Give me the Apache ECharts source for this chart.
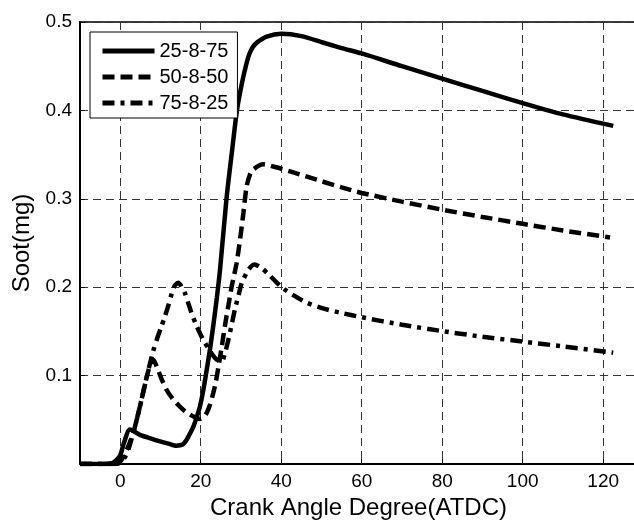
<!DOCTYPE html>
<html><head><meta charset="utf-8">
<script src="https://cdn.jsdelivr.net/npm/echarts@6/dist/echarts.min.js"></script>
<style>html,body{margin:0;padding:0;background:#fff}#c{width:634px;height:521px}</style>
</head><body><div id="c"></div>
<script>
const seriesNames = ['25-8-75', '50-8-50', '75-8-25'];
const xTicks = [0, 20, 40, 60, 80, 100, 120];
const yTicks = [0.1, 0.2, 0.3, 0.4, 0.5];
const xTitle = 'Crank Angle Degree(ATDC)';
const yTitle = 'Soot(mg)';

// 25-8-75 (solid)
const x1 = [-10,-4,-2,-1,0,1,2.4,4.9,7.5,9.9,12,14,15.5,16.5,17.5,18.2,19,19.8,20.7,21.5,22.3,23.1,24,24.8,26.4,27.8,29.0,30.2,31.2,32.1,33,34,36.4,40,45,50.5,55,60,70,80,90,100,110,122.5];
const y1 = [0,0,0.001,0.004,0.01,0.025,0.039,0.033,0.029,0.0256,0.023,0.0207,0.022,0.0275,0.036,0.0426,0.053,0.065,0.085,0.107,0.13,0.156,0.188,0.22,0.3,0.355,0.4,0.43,0.45,0.464,0.472,0.477,0.4835,0.4866,0.484,0.4765,0.4705,0.4645,0.4500,0.4360,0.4220,0.4083,0.3955,0.3825];

// 50-8-50 (dashed)
const x2 = [-10,-2,0,1,2,3.2,4.2,5.3,6.4,7.4,8.2,9,10.2,11.5,13,14.8,16,17.3,18.5,19.8,20.7,21.5,22.3,23.1,23.8,24.4,25.2,26.0,26.9,27.7,28.9,29.8,30.6,31.4,32.2,33.0,35.5,38.5,42.2,48.8,55,60,70,80,90,100,110,121.7];
const y2 = [0,0,0.003,0.01,0.02,0.035,0.052,0.073,0.095,0.112,0.118,0.111,0.097,0.084,0.074,0.065,0.06,0.056,0.053,0.051,0.053,0.058,0.067,0.08,0.094,0.11,0.132,0.156,0.18,0.201,0.227,0.255,0.284,0.314,0.327,0.333,0.339,0.336,0.331,0.3216,0.3130,0.3066,0.2968,0.2877,0.2795,0.2717,0.2642,0.2563];

// 75-8-25 (dash-dot)
const x3 = [-10,-1,0.4,1.2,2,3.2,4.2,5.3,6.4,7.4,8.2,9.1,10.1,11.1,12,12.8,13.6,14.4,15.2,16.1,16.9,17.7,18.8,19.8,20.8,21.9,23,24,25.2,26,26.9,27.7,28.5,29.4,30.2,31.5,32.5,33.3,35,37,40,43,46.3,50.4,54.6,60,70,80,90,100,110,122.5];
const y3 = [0,0,0.003,0.008,0.016,0.035,0.052,0.073,0.095,0.114,0.128,0.141,0.154,0.167,0.18,0.193,0.202,0.205,0.201,0.193,0.182,0.171,0.158,0.148,0.139,0.131,0.123,0.118,0.116,0.125,0.141,0.158,0.175,0.191,0.205,0.217,0.2235,0.2257,0.222,0.214,0.2003,0.1910,0.1825,0.1760,0.1712,0.1660,0.1575,0.1503,0.1440,0.1385,0.1330,0.1260];

const xs = [x1, x2, x3];
const ys = [y1, y2, y3];
const dashes = ['solid', [12, 6], [12, 6, 4, 6]];

const FONT = 'Liberation Sans, Arial, Helvetica, sans-serif';
const chart = echarts.init(document.getElementById('c'), null, {renderer: 'canvas'});

const series = seriesNames.map((name, i) => ({
  name: name,
  type: 'line',
  data: xs[i].map((x, j) => [x, ys[i][j]]),
  showSymbol: false,
  symbol: 'none',
  smooth: 0.25,
  lineStyle: {color: '#000', width: 4.5, type: dashes[i]},
  itemStyle: {color: '#000'},
  z: 3 + i,
  animation: false
}));

chart.setOption({
  animation: false,
  backgroundColor: '#fff',
  textStyle: {fontFamily: FONT, color: '#000'},
  grid: {
    left: 80, right: -3, top: 22, bottom: 57,
    containLabel: false,
    outerBoundsMode: 'none',
    show: true, borderColor: '#000', borderWidth: 1.5, backgroundColor: 'transparent'
  },
  legend: {
    orient: 'vertical',
    left: 90, top: 32,
    padding: [9, 9, 5, 10],
    itemWidth: 52, itemHeight: 14, itemGap: 6,
    backgroundColor: '#fff',
    borderColor: '#000', borderWidth: 1, borderRadius: 0,
    textStyle: {fontFamily: FONT, fontSize: 20, color: '#000'},
    lineStyle: {width: 5},
    itemStyle: {color: 'rgba(0,0,0,0)', borderColor: 'rgba(0,0,0,0)', borderWidth: 0, opacity: 0},
    data: seriesNames
  },
  xAxis: {
    type: 'value',
    min: -10, max: 128.4,
    name: xTitle,
    nameLocation: 'middle',
    nameGap: 31,
    nameTextStyle: {fontFamily: FONT, fontSize: 24, color: '#000'},
    axisLine: {show: true, onZero: false, lineStyle: {color: '#000', width: 2}},
    axisTick: {show: true, inside: true, length: 5, customValues: xTicks, lineStyle: {color: '#000'}},
    axisLabel: {customValues: xTicks, fontFamily: FONT, fontSize: 19, color: '#000', margin: 8},
    splitLine: {show: true, lineStyle: {color: '#333', width: 1, type: [8, 5]}}
  },
  yAxis: {
    type: 'value',
    min: 0, max: 0.5, interval: 0.1,
    name: yTitle,
    nameLocation: 'middle',
    nameGap: 46,
    nameTextStyle: {fontFamily: FONT, fontSize: 24, color: '#000'},
    axisLine: {show: true, onZero: false, lineStyle: {color: '#000', width: 2}},
    axisTick: {show: true, inside: true, length: 5, lineStyle: {color: '#000'}},
    axisLabel: {
      fontFamily: FONT, fontSize: 19, color: '#000', margin: 8,
      formatter: v => (yTicks.some(t => Math.abs(t - v) < 1e-9) ? v.toFixed(1) : '')
    },
    splitLine: {show: true, lineStyle: {color: '#333', width: 1, type: [8, 5]}}
  },
  series: series
});
</script>
</body></html>
